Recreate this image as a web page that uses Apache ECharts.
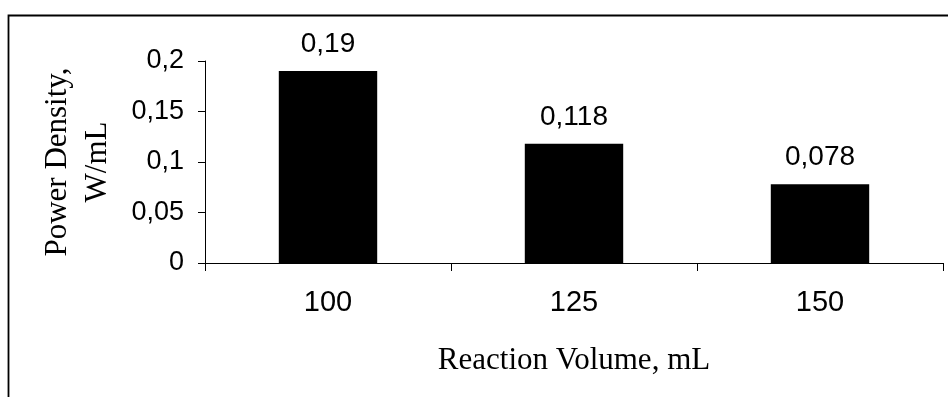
<!DOCTYPE html>
<html>
<head>
<meta charset="utf-8">
<script src="https://cdn.jsdelivr.net/npm/echarts@6/dist/echarts.min.js"></script>
<style>
  html, body { margin: 0; padding: 0; background: #fff; }
  #chart { width: 948px; height: 397px; }
</style>
</head>
<body>
<div id="chart"></div>
<script>
// Reaction volume (mL) and measured power density (W/mL)
const volumes = ['100', '125', '150'];
const powerDensity = [0.19, 0.118, 0.078];
const yTicks = [0, 0.05, 0.1, 0.15, 0.2];

const sans = '"Liberation Sans", Arial, sans-serif';
const serif = '"Liberation Serif", "Times New Roman", serif';
const comma = v => String(v).replace('.', ',');

const chart = echarts.init(document.getElementById('chart'));
chart.setOption({
  animation: false,
  backgroundColor: '#ffffff',
  grid: { left: 205, right: 5, top: 61, bottom: 134 },
  graphic: [{
    type: 'rect',
    shape: { x: 8.5, y: 15.5, width: 1000, height: 1000 },
    style: { fill: 'none', stroke: '#000', lineWidth: 1.8 },
    silent: true
  }],
  xAxis: {
    type: 'category',
    data: volumes,
    name: 'Reaction Volume, mL',
    nameLocation: 'middle',
    nameGap: 82,
    nameTextStyle: { fontFamily: serif, fontSize: 31, color: '#000' },
    axisLine: { lineStyle: { color: '#000', width: 1 } },
    axisTick: { show: true, length: 8, lineStyle: { color: '#000' } },
    axisLabel: { fontFamily: sans, fontSize: 29, color: '#000', margin: 25 },
    splitLine: { show: false }
  },
  yAxis: {
    type: 'value',
    min: yTicks[0],
    max: yTicks[yTicks.length - 1],
    interval: 0.05,
    name: 'Power Density,\nW/mL',
    nameLocation: 'middle',
    nameGap: 87,
    nameTextStyle: { fontFamily: serif, fontSize: 31, color: '#000', lineHeight: 40 },
    axisLine: { show: true, lineStyle: { color: '#000', width: 1 } },
    axisTick: { show: true, length: 7, lineStyle: { color: '#000' } },
    axisLabel: { fontFamily: sans, fontSize: 27, color: '#000', margin: 21, formatter: comma },
    splitLine: { show: false }
  },
  series: [{
    type: 'bar',
    data: powerDensity,
    barWidth: '40%',
    itemStyle: { color: '#000' },
    label: {
      show: true,
      position: 'top',
      distance: 13,
      fontFamily: sans,
      fontSize: 28,
      color: '#000',
      formatter: p => comma(p.value)
    }
  }]
});
</script>
</body>
</html>
